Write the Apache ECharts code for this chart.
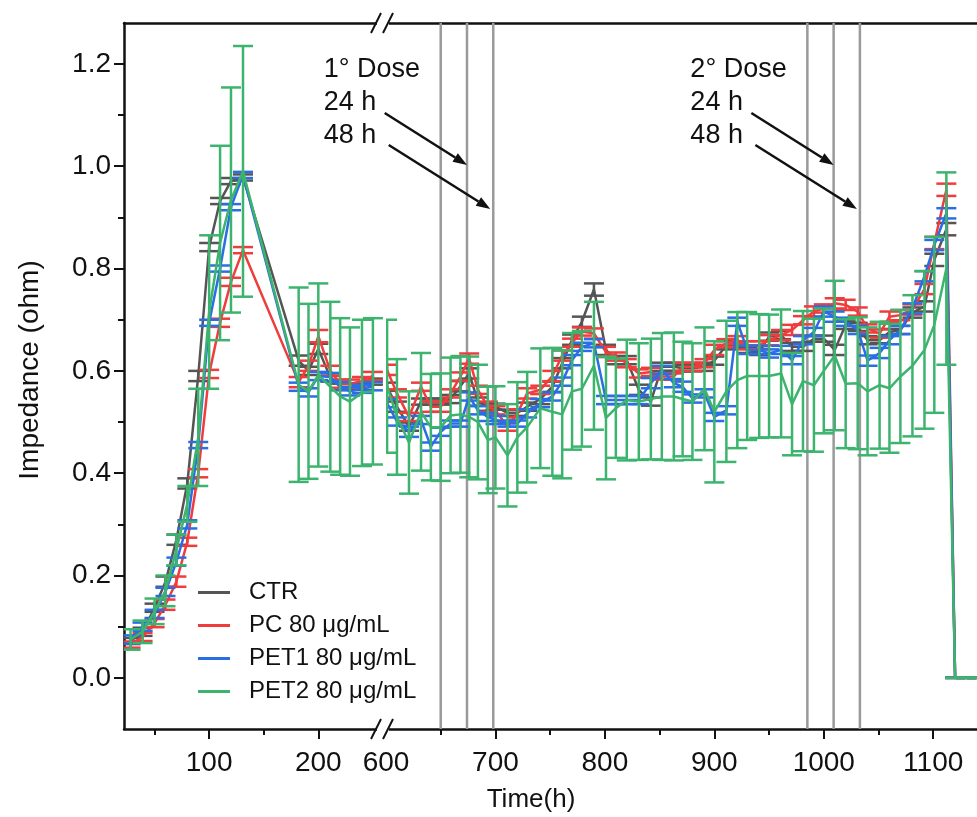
<!DOCTYPE html>
<html>
<head>
<meta charset="utf-8">
<script src="https://cdn.jsdelivr.net/npm/echarts@6/dist/echarts.min.js"></script>
<style>
  html, body { margin: 0; padding: 0; background: #fff; }
  #chart { width: 977px; height: 817px; }
</style>
</head>
<body>
<div id="chart"></div>
<script>
const FONT = '"Liberation Sans", Arial, sans-serif'

// time points (h), first part of the broken axis
const timeA = [28, 39, 50, 60, 70, 80, 90, 100, 110, 120, 131, 182, 191, 200, 211, 220, 229, 240, 250]
// time points (h), second part
const timeB = [601, 610, 621, 632, 641, 650, 659, 668, 676, 684,
  693, 700, 711, 720, 729, 741, 752, 761, 770, 779,
  790, 801, 810, 820, 831, 842, 852, 863,
  871, 880, 891, 900, 911, 921, 930, 941, 950, 961,
  971, 981, 991, 1000, 1010, 1020, 1031, 1040, 1051, 1060,
  1070, 1081, 1092, 1101, 1112, 1120, 1130, 1140]

// CTR
const ctrA = [0.072, 0.09, 0.137, 0.188, 0.27, 0.38, 0.59, 0.842, 0.932, 0.971, 0.978, 0.62, 0.60, 0.643, 0.587, 0.569, 0.569, 0.569, 0.579]
const ctrSdA = [0.006, 0.008, 0.008, 0.01, 0.01, 0.01, 0.01, 0.008, 0.006, 0.006, 0.006, 0.01, 0.008, 0.01, 0.008, 0.006, 0.006, 0.006, 0.006]
const ctrB = [0.569, 0.53, 0.491, 0.54, 0.54, 0.54, 0.545, 0.57, 0.595, 0.54,
  0.53, 0.53, 0.518, 0.518, 0.53, 0.545, 0.569, 0.615, 0.661, 0.696,
  0.759, 0.641, 0.621, 0.621, 0.563, 0.54, 0.608, 0.608,
  0.605, 0.605, 0.608, 0.62, 0.65, 0.65, 0.641, 0.637, 0.667, 0.67,
  0.647, 0.647, 0.663, 0.663, 0.641, 0.69, 0.686, 0.66, 0.66, 0.676,
  0.68, 0.714, 0.726, 0.817, 0.877, 0, 0, 0]
const ctrSdB = [0.008, 0.01, 0.008, 0.006, 0.006, 0.006, 0.008, 0.01, 0.01, 0.008,
  0.008, 0.006, 0.006, 0.006, 0.008, 0.01, 0.01, 0.01, 0.01, 0.01,
  0.012, 0.01, 0.008, 0.008, 0.01, 0.008, 0.008, 0.008,
  0.006, 0.006, 0.008, 0.008, 0.008, 0.006, 0.006, 0.006, 0.008, 0.008,
  0.008, 0.008, 0.006, 0.006, 0.01, 0.008, 0.008, 0.008, 0.006, 0.006,
  0.008, 0.01, 0.01, 0.012, 0.012, 0, 0, 0]

// PC 80
const pcA = [0.065, 0.08, 0.107, 0.143, 0.188, 0.266, 0.40, 0.594, 0.694, 0.774, 0.836, 0.578, 0.61, 0.668, 0.60, 0.575, 0.575, 0.58, 0.59]
const pcSdA = [0.006, 0.008, 0.008, 0.01, 0.01, 0.008, 0.008, 0.008, 0.008, 0.008, 0.006, 0.01, 0.01, 0.012, 0.01, 0.008, 0.008, 0.008, 0.008]
const pcB = [0.602, 0.556, 0.51, 0.569, 0.53, 0.53, 0.556, 0.589, 0.624, 0.563,
  0.53, 0.523, 0.491, 0.517, 0.556, 0.563, 0.59, 0.63, 0.655, 0.677,
  0.673, 0.637, 0.628, 0.615, 0.595, 0.598, 0.589, 0.589,
  0.608, 0.608, 0.615, 0.641, 0.654, 0.66, 0.65, 0.65, 0.66, 0.67,
  0.68, 0.699, 0.716, 0.722, 0.732, 0.729, 0.716, 0.683, 0.673, 0.706,
  0.709, 0.72, 0.76, 0.85, 0.954, 0, 0, 0]
const pcSdB = [0.01, 0.008, 0.008, 0.008, 0.01, 0.01, 0.008, 0.008, 0.01, 0.008,
  0.01, 0.008, 0.008, 0.008, 0.01, 0.008, 0.01, 0.01, 0.008, 0.008,
  0.01, 0.01, 0.008, 0.008, 0.008, 0.008, 0.006, 0.006,
  0.008, 0.008, 0.008, 0.01, 0.008, 0.008, 0.008, 0.008, 0.01, 0.01,
  0.01, 0.008, 0.01, 0.008, 0.01, 0.01, 0.008, 0.008, 0.008, 0.01,
  0.01, 0.01, 0.01, 0.012, 0.012, 0, 0, 0]

// PET1 80
const pet1A = [0.075, 0.10, 0.125, 0.168, 0.227, 0.30, 0.455, 0.694, 0.80, 0.92, 0.983, 0.569, 0.558, 0.59, 0.588, 0.57, 0.56, 0.565, 0.57]
const pet1SdA = [0.008, 0.008, 0.008, 0.008, 0.008, 0.008, 0.006, 0.006, 0.006, 0.006, 0.006, 0.008, 0.008, 0.008, 0.008, 0.008, 0.008, 0.008, 0.008]
const pet1B = [0.537, 0.501, 0.481, 0.504, 0.452, 0.481, 0.497, 0.497, 0.55, 0.523,
  0.51, 0.504, 0.497, 0.497, 0.517, 0.537, 0.55, 0.579, 0.621, 0.647,
  0.654, 0.543, 0.543, 0.543, 0.543, 0.576, 0.602, 0.576,
  0.569, 0.546, 0.556, 0.51, 0.523, 0.696, 0.641, 0.641, 0.634, 0.641,
  0.621, 0.66, 0.676, 0.716, 0.706, 0.696, 0.68, 0.62, 0.635, 0.66,
  0.68, 0.722, 0.785, 0.846, 0.908, 0, 0, 0]
const pet1SdB = [0.008, 0.008, 0.01, 0.008, 0.008, 0.008, 0.006, 0.006, 0.008, 0.008,
  0.008, 0.008, 0.006, 0.006, 0.008, 0.008, 0.008, 0.008, 0.01, 0.008,
  0.008, 0.008, 0.008, 0.008, 0.008, 0.01, 0.008, 0.008,
  0.01, 0.008, 0.008, 0.008, 0.008, 0.008, 0.008, 0.008, 0.008, 0.008,
  0.008, 0.008, 0.008, 0.01, 0.01, 0.008, 0.008, 0.01, 0.01, 0.008,
  0.008, 0.01, 0.01, 0.01, 0.01, 0, 0, 0]

// PET2 80
const pet2A = [0.075, 0.09, 0.13, 0.17, 0.25, 0.34, 0.47, 0.715, 0.85, 0.934, 0.99, 0.573, 0.56, 0.592, 0.569, 0.55, 0.54, 0.557, 0.56]
const pet2SdA = [0.02, 0.022, 0.025, 0.03, 0.03, 0.035, 0.095, 0.15, 0.19, 0.22, 0.245, 0.19, 0.171, 0.179, 0.166, 0.153, 0.145, 0.143, 0.143]
const pet2B = [0.57, 0.51, 0.46, 0.52, 0.49, 0.49, 0.513, 0.515, 0.51, 0.50,
  0.465, 0.47, 0.435, 0.47, 0.49, 0.527, 0.52, 0.515, 0.56, 0.565,
  0.61, 0.508, 0.527, 0.543, 0.54, 0.545, 0.55, 0.55,
  0.545, 0.54, 0.565, 0.52, 0.56, 0.582, 0.59, 0.59, 0.59, 0.595,
  0.535, 0.58, 0.572, 0.60, 0.63, 0.575, 0.576, 0.56, 0.572, 0.566,
  0.589, 0.61, 0.641, 0.69, 0.80, 0, 0, 0]
const pet2SdB = [0.13, 0.113, 0.10, 0.115, 0.104, 0.105, 0.113, 0.114, 0.118, 0.112,
  0.104, 0.10, 0.10, 0.108, 0.108, 0.117, 0.125, 0.125, 0.114, 0.113,
  0.125, 0.12, 0.097, 0.118, 0.114, 0.118, 0.124, 0.125,
  0.112, 0.114, 0.12, 0.138, 0.138, 0.133, 0.125, 0.121, 0.12, 0.125,
  0.10, 0.137, 0.13, 0.122, 0.146, 0.126, 0.129, 0.125, 0.124, 0.126,
  0.13, 0.138, 0.154, 0.172, 0.188, 0, 0, 0]

const names = ['CTR', 'PC 80 μg/mL', 'PET1 80 μg/mL', 'PET2 80 μg/mL']
const colors = ['#555555', '#f03c3c', '#2a6ee6', '#3cb46e']
const partA = [[ctrA, ctrSdA], [pcA, pcSdA], [pet1A, pet1SdA], [pet2A, pet2SdA]]
const partB = [[ctrB, ctrSdB], [pcB, pcSdB], [pet1B, pet1SdB], [pet2B, pet2SdB]]

// dose times, lines at dose, +24 h, +48 h
const doseTimes = [650, 985]
const doseLabels = ['1° Dose', '2° Dose']
const doseLines = [650, 674, 698, 985, 1009, 1033]

const black = '#111'
const hidden = {
  type: 'value',
  axisLine: { show: false, onZero: false },
  axisTick: { show: false },
  axisLabel: { show: false },
  splitLine: { show: false }
}

function lineSeries(i, xi, yi, t, v) {
  return {
    name: names[i],
    type: 'line',
    xAxisIndex: xi,
    yAxisIndex: yi,
    data: t.map((x, k) => [x, v[k]]),
    symbol: 'none',
    showSymbol: false,
    lineStyle: { color: colors[i], width: 2.5 },
    itemStyle: { color: colors[i] },
    z: 3 + i,
    clip: true
  }
}

function errSeries(i, xi, yi, t, v, sd) {
  return {
    name: names[i],
    type: 'custom',
    xAxisIndex: xi,
    yAxisIndex: yi,
    data: t.map((x, k) => [x, v[k], sd[k]]),
    encode: { x: 0, y: 1 },
    clip: true,
    z: 3 + i,
    renderItem: function (params, api) {
      const x = api.value(0)
      const m = api.value(1)
      const s = api.value(2)
      const hi = api.coord([x, m + s])
      const lo = api.coord([x, m - s])
      const w = 10
      const style = { stroke: colors[i], lineWidth: 2.5, fill: null }
      return {
        type: 'group',
        children: [
          { type: 'line', shape: { x1: hi[0], y1: hi[1], x2: lo[0], y2: lo[1] }, style: style },
          { type: 'line', shape: { x1: hi[0] - w, y1: hi[1], x2: hi[0] + w, y2: hi[1] }, style: style },
          { type: 'line', shape: { x1: lo[0] - w, y1: lo[1], x2: lo[0] + w, y2: lo[1] }, style: style }
        ]
      }
    }
  }
}

const series = []
// line series first so the legend picks them
for (let i = 0; i < 4; i++) {
  series.push(lineSeries(i, 0, 0, timeA, partA[i][0]))
  series.push(lineSeries(i, 3, 2, timeB, partB[i][0]))
}
for (let i = 0; i < 4; i++) {
  series.push(errSeries(i, 0, 0, timeA, partA[i][0], partA[i][1]))
  series.push(errSeries(i, 3, 2, timeB, partB[i][0], partB[i][1]))
}
// vertical dose lines
series.push({
  type: 'custom',
  xAxisIndex: 3,
  yAxisIndex: 2,
  data: doseLines.map(x => [x, 0]),
  encode: { x: 0, y: 1 },
  z: 1,
  silent: true,
  renderItem: function (params, api) {
    const p = api.coord([api.value(0), 0])
    const cs = params.coordSys
    return {
      type: 'line',
      shape: { x1: p[0], y1: cs.y, x2: p[0], y2: cs.y + cs.height },
      style: { stroke: '#9a9a9a', lineWidth: 2.5 }
    }
  }
})

const axisLineStyle = { color: black, width: 2.5 }
const tickStyle = { color: black, width: 2 }
const tickFont = { fontSize: 28, color: black, fontFamily: FONT }

const option = {
  animation: false,
  backgroundColor: '#fff',
  textStyle: { fontFamily: FONT },
  grid: [
    { left: 124, top: 23, width: 262, bottom: 88 },
    { left: 386, top: 23, right: 0, bottom: 88 }
  ],
  legend: {
    left: 198,
    top: 580,
    padding: 0,
    orient: 'vertical',
    icon: 'rect',
    itemWidth: 32,
    itemHeight: 3,
    itemGap: 8,
    data: names,
    textStyle: { fontSize: 24, lineHeight: 25, color: black, fontFamily: FONT, padding: [0, 0, 0, 14] }
  },
  xAxis: [
    {
      type: 'value', gridIndex: 0, min: 22, max: 262, position: 'bottom',
      axisLine: { show: true, onZero: false, lineStyle: axisLineStyle },
      axisTick: { show: true, length: 10, customValues: [100, 200], lineStyle: tickStyle },
      axisLabel: Object.assign({ show: true, customValues: [100, 200], margin: 20, formatter: v => String(v) }, tickFont),
      splitLine: { show: false }
    },
    Object.assign({}, hidden, {
      gridIndex: 0, min: 22, max: 262, position: 'bottom',
      axisTick: { show: true, length: 6, customValues: [50, 150], lineStyle: tickStyle }
    }),
    Object.assign({}, hidden, {
      gridIndex: 0, min: 22, max: 262, position: 'top',
      axisLine: { show: true, onZero: false, lineStyle: axisLineStyle }
    }),
    {
      type: 'value', gridIndex: 1, min: 600, max: 1140, position: 'bottom',
      axisLine: { show: true, onZero: false, lineStyle: axisLineStyle },
      axisTick: { show: true, length: 10, customValues: [700, 800, 900, 1000, 1100], lineStyle: tickStyle },
      axisLabel: Object.assign({ show: true, customValues: [600, 700, 800, 900, 1000, 1100], margin: 20, formatter: v => String(v) }, tickFont),
      splitLine: { show: false }
    },
    Object.assign({}, hidden, {
      gridIndex: 1, min: 600, max: 1140, position: 'bottom',
      axisTick: { show: true, length: 6, customValues: [650, 750, 850, 950, 1050], lineStyle: tickStyle }
    }),
    Object.assign({}, hidden, {
      gridIndex: 1, min: 600, max: 1140, position: 'top',
      axisLine: { show: true, onZero: false, lineStyle: axisLineStyle }
    })
  ],
  yAxis: [
    {
      type: 'value', gridIndex: 0, min: -0.1, max: 1.28, position: 'left',
      axisLine: { show: true, onZero: false, lineStyle: axisLineStyle },
      axisTick: { show: true, length: 10, customValues: [0, 0.2, 0.4, 0.6, 0.8, 1.0, 1.2], lineStyle: tickStyle },
      axisLabel: Object.assign({
        show: true, customValues: [0, 0.2, 0.4, 0.6, 0.8, 1.0, 1.2], margin: 13,
        formatter: v => Number(v).toFixed(1)
      }, tickFont),
      splitLine: { show: false }
    },
    Object.assign({}, hidden, {
      gridIndex: 0, min: -0.1, max: 1.28, position: 'left',
      axisTick: { show: true, length: 6, customValues: [0.1, 0.3, 0.5, 0.7, 0.9, 1.1], lineStyle: tickStyle }
    }),
    Object.assign({}, hidden, { gridIndex: 1, min: -0.1, max: 1.28 })
  ],
  series: series
}

const chart = echarts.init(document.getElementById('chart'))
chart.setOption(option)

// annotations: axis titles, break marks, dose labels and arrows
const toPx = (t, v) => chart.convertToPixel({ xAxisIndex: 3, yAxisIndex: 2 }, [t, v])
const graphics = []

function text(str, x, y, size, rot, align) {
  return {
    type: 'text', x: x, y: y, rotation: rot || 0, z: 20,
    style: {
      text: str, fill: black, font: size + 'px ' + FONT,
      align: align || 'left', verticalAlign: 'middle',
      textAlign: align || 'left', textVerticalAlign: 'middle'
    }
  }
}

function arrow(x1, y1, x2, y2) {
  const a = Math.atan2(y2 - y1, x2 - x1)
  const len = 14, hw = 5
  const bx = x2 - len * Math.cos(a), by = y2 - len * Math.sin(a)
  return [
    { type: 'line', z: 20, shape: { x1: x1, y1: y1, x2: bx, y2: by }, style: { stroke: black, lineWidth: 2.5 } },
    {
      type: 'polygon', z: 20,
      shape: { points: [[x2, y2], [bx - hw * Math.sin(a), by + hw * Math.cos(a)], [bx + hw * Math.sin(a), by - hw * Math.cos(a)]] },
      style: { fill: black }
    }
  ]
}

doseTimes.forEach((d, k) => {
  const x0 = toPx(d, 0)[0] - 117
  graphics.push(text(doseLabels[k], x0, 70, 27))
  graphics.push(text('24 h', x0, 103, 27))
  graphics.push(text('48 h', x0, 136, 27))
  graphics.push(...arrow(x0 + 61, 113, toPx(d + 24, 0)[0], 165))
  graphics.push(...arrow(x0 + 65, 145, toPx(d + 48, 0)[0] - 3, 209))
})

// axis titles
graphics.push(text('Time(h)', 531, 800, 26, 0, 'center'))
graphics.push(text('Impedance (ohm)', 30, 370, 28, Math.PI / 2, 'center'))

// axis break marks
const bx = toPx(600, 0)[0]
;[23, 729].forEach(y => {
  graphics.push({ type: 'rect', z: 19, shape: { x: bx - 9, y: y - 3, width: 12, height: 6 }, style: { fill: '#fff' } })
  ;[-10, 2].forEach(dx => {
    graphics.push({
      type: 'line', z: 20,
      shape: { x1: bx + dx - 5, y1: y + 10, x2: bx + dx + 5, y2: y - 10 },
      style: { stroke: black, lineWidth: 2 }
    })
  })
})

chart.setOption({ graphic: graphics })
</script>
</body>
</html>
